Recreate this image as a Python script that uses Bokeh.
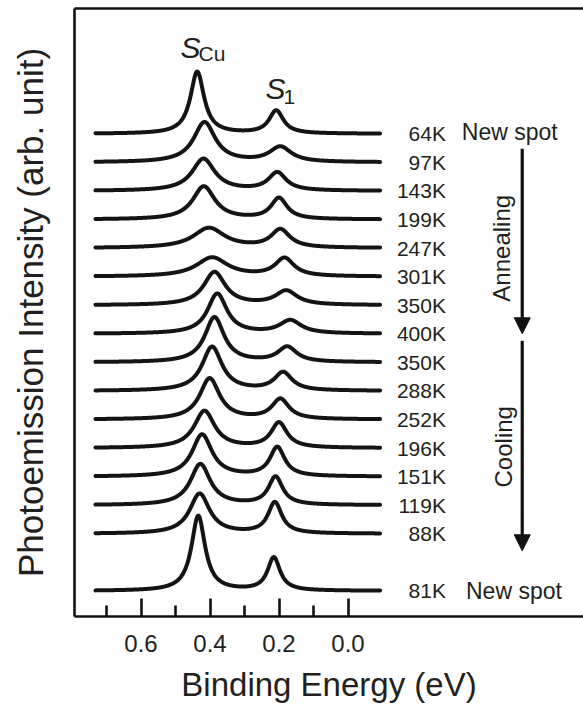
import numpy as np
from bokeh.plotting import figure
from bokeh.models import Range1d, FixedTicker, LinearAxis, Label, Arrow, NormalHead, ColumnDataSource
from bokeh.embed import file_html
from bokeh.resources import INLINE
from bokeh.core.properties import value

# ---------------- data ----------------
temperatures = ["64K", "97K", "143K", "199K", "247K", "301K", "350K", "400K",
                "350K", "288K", "252K", "196K", "151K", "119K", "88K", "81K"]
row_index = [0, 1, 2, 3, 4, 5, 6, 7, 8, 9, 10, 11, 12, 13, 14, 16]
# S_Cu peak: binding energy (eV), height (arb.), half width (eV)
cu_position = [0.437, 0.416, 0.419, 0.418, 0.403, 0.394, 0.387, 0.379,
               0.387, 0.394, 0.401, 0.416, 0.423, 0.428, 0.430, 0.434]
cu_height = [62, 40, 32, 33, 20, 19, 33, 40, 45, 44, 41, 37, 42, 41, 40, 75]
cu_width = [0.024, 0.038, 0.040, 0.039, 0.055, 0.055, 0.038, 0.034,
            0.034, 0.035, 0.035, 0.036, 0.035, 0.035, 0.035, 0.024]
# S_1 peak
s1_position = [0.208, 0.196, 0.205, 0.200, 0.196, 0.184, 0.179, 0.167,
               0.176, 0.188, 0.196, 0.200, 0.205, 0.210, 0.212, 0.215]
s1_height = [23, 15, 18, 21, 18, 18, 14, 13, 15, 18, 20, 25, 29, 28, 31, 33]
s1_width = [0.025, 0.038, 0.031, 0.028, 0.033, 0.033, 0.038, 0.038,
            0.033, 0.031, 0.030, 0.028, 0.026, 0.025, 0.024, 0.022]
energy_start, energy_end = 0.732, -0.093
tick_values = [0.6, 0.4, 0.2, 0.0]
minor_tick_values = [0.7, 0.5, 0.3, 0.1]
tick_labels = ["0.6", "0.4", "0.2", "0.0"]

# ---------------- layout constants ----------------
ROW_STEP = 28.57
TOP_BASE = 482.7
FONT = "Liberation Sans"
INK = "#231f20"

bases = [TOP_BASE - ROW_STEP * k for k in row_index]
energy = np.linspace(energy_start, energy_end, 800)


def peak(pos, h, w):
    return h * w ** 2 / ((energy - pos) ** 2 + w ** 2)


xs, ys = [], []
for i in range(len(temperatures)):
    curve = bases[i] + peak(cu_position[i], cu_height[i], cu_width[i]) + \
        peak(s1_position[i], s1_height[i], s1_width[i])
    xs.append(energy.tolist())
    ys.append(curve.tolist())

p = figure(width=583, height=711, output_backend="svg", toolbar_location=None,
           x_range=Range1d(0.7928, -0.6826), y_range=Range1d(0, 608),
           min_border_left=74, min_border_right=0, min_border_top=8, min_border_bottom=95)
p.outline_line_color = None
p.grid.visible = False
p.background_fill_color = "white"

p.multi_line(xs=xs, ys=ys, line_color="#141414", line_width=4.0, line_join="round", line_cap="round")

# x axis
xa = p.xaxis[0]
xa.ticker = FixedTicker(ticks=tick_values, minor_ticks=minor_tick_values)
xa.major_label_overrides = {t: l for t, l in zip(tick_values, tick_labels)}
xa.major_tick_in = 18
xa.major_tick_out = 0
xa.minor_tick_in = 11
xa.minor_tick_out = 0
xa.axis_line_width = 2.6
xa.major_tick_line_width = 2.6
xa.minor_tick_line_width = 2.6
xa.axis_line_color = "#111111"
xa.major_tick_line_color = "#111111"
xa.minor_tick_line_color = "#111111"
xa.major_label_text_font = FONT
xa.major_label_text_font_size = "24px"
xa.major_label_text_color = INK
xa.major_label_standoff = 18
xa.axis_label = "Binding Energy (eV)"
xa.axis_label_text_font = FONT
xa.axis_label_text_font_size = "33px"
xa.axis_label_text_font_style = "normal"
xa.axis_label_text_color = INK
xa.axis_label_standoff = 11

# y axis
ya = p.yaxis[0]
ya.ticker = FixedTicker(ticks=[])
ya.major_tick_in = 0
ya.major_tick_out = 0
ya.minor_tick_in = 0
ya.minor_tick_out = 0
ya.axis_line_width = 2.6
ya.axis_line_color = "#111111"
ya.axis_label = "Photoemission Intensity (arb. unit)"
ya.axis_label_text_font = FONT
ya.axis_label_text_font_size = "35px"
ya.axis_label_text_font_style = "normal"
ya.axis_label_text_color = INK
ya.axis_label_standoff = 25

# top border
top = LinearAxis(ticker=FixedTicker(ticks=[]), axis_line_width=2.6, axis_line_color="#111111",
                 major_tick_in=0, major_tick_out=0, minor_tick_in=0, minor_tick_out=0,
                 major_label_text_font_size="0px")
p.add_layout(top, "above")

# temperature labels
lab_src = ColumnDataSource(dict(x=[-0.284] * len(temperatures), y=bases, t=temperatures))
p.text(x="x", y="y", text="t", source=lab_src, text_align="right", text_baseline="middle",
       text_font=value(FONT), text_font_size="21px", text_color=INK)

# New spot labels
p.add_layout(Label(x=-0.330, y=bases[0] + 1.5, text="New spot", text_align="left", text_baseline="middle",
                   text_font=FONT, text_font_size="23px", text_color=INK))
p.add_layout(Label(x=-0.342, y=bases[-1], text="New spot", text_align="left", text_baseline="middle",
                   text_font=FONT, text_font_size="23px", text_color=INK))

# arrows
arrow_x = -0.505
p.add_layout(Arrow(x_start=arrow_x, y_start=bases[0] - 15, x_end=arrow_x, y_end=bases[7],
                   line_width=3.2, line_color="#111111",
                   end=NormalHead(size=16, fill_color="#111111", line_color="#111111")))
p.add_layout(Arrow(x_start=arrow_x, y_start=bases[7] - 7, x_end=arrow_x, y_end=bases[14] - 17,
                   line_width=3.2, line_color="#111111",
                   end=NormalHead(size=16, fill_color="#111111", line_color="#111111")))
p.add_layout(Label(x=-0.4435, y=(bases[0] - 15 + bases[7]) / 2 - 7, text="Annealing", angle=np.pi / 2,
                   text_align="center", text_baseline="middle",
                   text_font=FONT, text_font_size="24px", text_color=INK))
p.add_layout(Label(x=-0.450, y=(bases[7] - 7 + bases[14] - 17) / 2 - 1, text="Cooling", angle=np.pi / 2,
                   text_align="center", text_baseline="middle",
                   text_font=FONT, text_font_size="24px", text_color=INK))

# peak names
p.add_layout(Label(x=0.4855, y=569.3, text="S", text_align="left", text_baseline="alphabetic",
                   text_font=FONT, text_font_size="30px", text_font_style="italic", text_color=INK))
p.add_layout(Label(x=0.4333, y=562.7, text="Cu", text_align="left", text_baseline="alphabetic",
                   text_font=FONT, text_font_size="21px", text_color=INK))
p.add_layout(Label(x=0.2391, y=527.7, text="S", text_align="left", text_baseline="alphabetic",
                   text_font=FONT, text_font_size="30px", text_font_style="italic", text_color=INK))
p.add_layout(Label(x=0.187, y=519.3, text="1", text_align="left", text_baseline="alphabetic",
                   text_font=FONT, text_font_size="21px", text_color=INK))

open("out.html", "w").write(file_html(p, INLINE))
